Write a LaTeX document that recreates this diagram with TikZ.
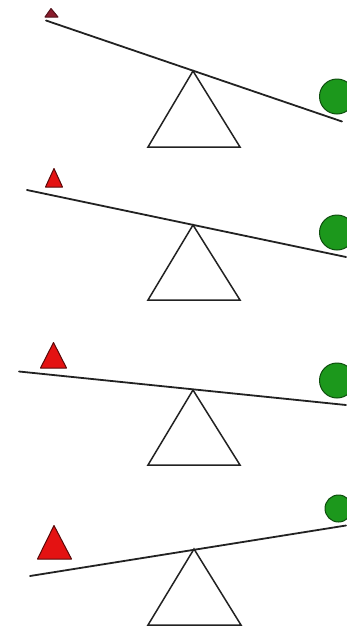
\documentclass[tikz,border=0pt]{standalone}
\usetikzlibrary{calc}
\definecolor{wred}{HTML}{E41212}
\definecolor{wredline}{HTML}{5A0808}
\definecolor{wmaroon}{HTML}{8A1C2C}
\definecolor{wgreen}{HTML}{1C981C}
\definecolor{wgreenline}{HTML}{0E4E0E}
\definecolor{ink}{HTML}{222222}
\tikzset{
  beam/.style={draw=ink, line width=1.8pt, line cap=round},
  fulc/.style={draw=ink, line width=1.5pt, line join=miter, fill=white},
  wtri/.style={draw=wredline, line width=1pt, fill=wred, line join=round},
  wball/.style={draw=wgreenline, line width=1pt, fill=wgreen},
}
\begin{document}
\begin{tikzpicture}[x=1pt, y=-1pt]
  \useasboundingbox (0,0) rectangle (346,627);
  % panel 1: tiny weight, beam tips right
  \coordinate (l1) at (46,20.5);  \coordinate (r1) at (342,121.5);
  \coordinate (p1) at (193,71);
  \draw[fulc] (p1) -- (148,147) -- (240,147) -- cycle;
  \draw[beam] (l1) -- (r1);
  \draw[wtri, fill=wmaroon, draw=wmaroon!60!black] (51,8.5) -- (45,17) -- (58,17) -- cycle;
  \draw[wball] (337,96.5) circle (17.5);
  % panel 2
  \coordinate (l2) at (27,190);  \coordinate (r2) at (346,257);
  \coordinate (p2) at (193,225);
  \draw[fulc] (p2) -- (148,300) -- (240,300) -- cycle;
  \draw[beam] (l2) -- (r2);
  \draw[wtri] (54,168.5) -- (45.5,187) -- (62.5,187) -- cycle;
  \draw[wball] (337,232.5) circle (17.5);
  % panel 3
  \coordinate (l3) at (19,371.5);  \coordinate (r3) at (346,405);
  \coordinate (p3) at (193,390);
  \draw[fulc] (p3) -- (148,465) -- (240,465) -- cycle;
  \draw[beam] (l3) -- (r3);
  \draw[wtri] (53.5,342.5) -- (40.5,368) -- (66.5,368) -- cycle;
  \draw[wball] (337,380.5) circle (17.5);
  % panel 4: heavy weight, beam tips left
  \coordinate (l4) at (30,576);  \coordinate (r4) at (346,525.5);
  \coordinate (p4) at (194,549);
  \draw[fulc] (p4) -- (148,625) -- (241,625) -- cycle;
  \draw[beam] (l4) -- (r4);
  \draw[wtri] (54,525.5) -- (37.5,559) -- (71.5,559) -- cycle;
  \draw[wball] (338.5,508.5) circle (13.5);
\end{tikzpicture}
\end{document}
